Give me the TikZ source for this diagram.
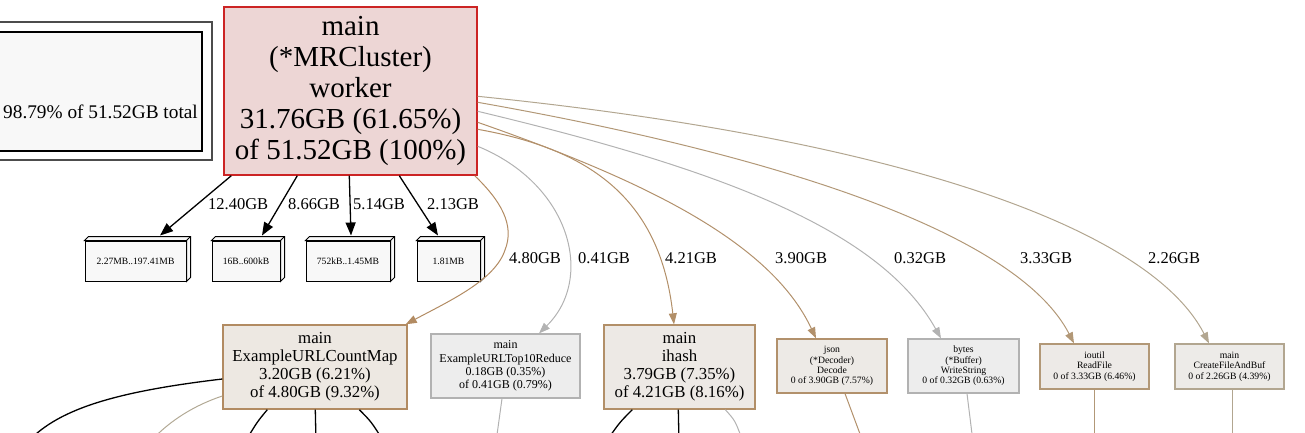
\documentclass[tikz,border=0pt]{standalone}
\usepackage{fontspec}
\setmainfont{Liberation Serif}
\usetikzlibrary{arrows.meta}
\definecolor{hotred}{HTML}{CC2424}
\definecolor{hotfill}{HTML}{EDD6D5}
\definecolor{legfill}{HTML}{F8F8F8}
\definecolor{tanA}{HTML}{B28B62}
\definecolor{fillA}{HTML}{EDE8E2}
\definecolor{tanB}{HTML}{B28F68}
\definecolor{fillB}{HTML}{EDE9E5}
\definecolor{tanC}{HTML}{B2916C}
\definecolor{fillC}{HTML}{EDEAE6}
\definecolor{tanD}{HTML}{B29877}
\definecolor{fillD}{HTML}{EDEAE7}
\definecolor{tanE}{HTML}{B2A690}
\definecolor{fillE}{HTML}{EDEBE8}
\definecolor{tanF}{HTML}{B2A995}
\definecolor{grayG}{HTML}{B2B2B2}
\definecolor{fillG}{HTML}{EDEDED}
\newcommand\fsz[2]{\fontsize{#1}{#2}\selectfont}
\tikzset{>={Triangle[length=11pt,width=8pt]}}
\tikzset{
  fn/.style={draw, rectangle, inner sep=0pt, align=center, line width=1.4pt},
  szbox/.style={draw, rectangle, fill=legfill, inner sep=0pt, line width=1pt,
    minimum height=40pt, font=\fsz{9.6}{10}},
  lbl/.style={anchor=west, inner sep=0pt, font=\fsz{16.5}{18}},
  blk/.style={->, line width=1.3pt, >={Triangle[length=13pt,width=10pt]}},
  ed/.style={->, line width=1pt},
  stub/.style={line width=1pt}
}

\begin{document}
\begin{tikzpicture}[x=1pt,y=-1pt]
\useasboundingbox (0,0) rectangle (1305,432);
\clip (0,0) rectangle (1305,432);
% legend
\draw[black!70, line width=1.6pt, fill=white] (-10,22) rectangle (212,160);
\draw[line width=1.3pt, fill=legfill] (-10,32) rectangle (202,151);
\node[anchor=east, inner sep=0pt, font=\fsz{19.3}{22}] (legend) at (198,112) {98.79\% of 51.52GB total};
% nodes
\node[fn, draw=hotred, fill=hotfill, minimum width=253pt, minimum height=168pt,
  font=\fsz{29}{31}] (worker) at (350.5,91)
  {main\\(*MRCluster)\\worker\\31.76GB (61.65\%)\\of 51.52GB (100\%)};
\node[szbox, minimum width=101pt] (sz1) at (135.5,261) {2.27MB..197.41MB};
\node[szbox, minimum width=68pt] (sz2) at (246,261) {16B..600kB};
\node[szbox, minimum width=84pt] (sz3) at (348,261) {752kB..1.45MB};
\node[szbox, minimum width=63pt] (sz4) at (448.5,261) {1.81MB};
\foreach \b in {sz1,sz2,sz3,sz4}{
  \draw[line width=1pt, fill=legfill] (\b.north west) -- ++(4,-4)
    -- ([shift={(4,-4)}]\b.north east) -- ([shift={(4,-4)}]\b.south east)
    -- (\b.south east) -- (\b.north east) -- cycle;
  \draw[line width=1pt] (\b.north east) -- ++(4,-4);
}
\node[fn, draw=tanA, fill=fillA, minimum width=184pt, minimum height=84pt,
  font=\fsz{16.8}{18}] (countmap) at (315,367)
  {main\\ExampleURLCountMap\\3.20GB (6.21\%)\\of 4.80GB (9.32\%)};
\node[fn, draw=grayG, fill=fillG, minimum width=149pt, minimum height=64pt,
  line width=1.2pt, font=\fsz{12}{13.3}] (top10) at (505.5,366)
  {main\\ExampleURLTop10Reduce\\0.18GB (0.35\%)\\of 0.41GB (0.79\%)};
\node[fn, draw=tanB, fill=fillB, minimum width=151pt, minimum height=84pt,
  font=\fsz{16.8}{18}] (ihash) at (679.5,367)
  {main\\ihash\\3.79GB (7.35\%)\\of 4.21GB (8.16\%)};
\node[fn, draw=tanC, fill=fillC, minimum width=110pt, minimum height=54pt,
  line width=1.2pt, font=\fsz{9.7}{10.3}] (decode) at (832,366)
  {json\\(*Decoder)\\Decode\\0 of 3.90GB (7.57\%)};
\node[fn, draw=grayG, fill=fillG, minimum width=111pt, minimum height=54pt,
  line width=1.2pt, font=\fsz{9.7}{10.3}] (wstring) at (963.5,366)
  {bytes\\(*Buffer)\\WriteString\\0 of 0.32GB (0.63\%)};
\node[fn, draw=tanD, fill=fillD, minimum width=109pt, minimum height=45pt,
  line width=1.2pt, font=\fsz{9.7}{10.5}] (readfile) at (1094.5,366.5)
  {ioutil\\ReadFile\\0 of 3.33GB (6.46\%)};
\node[fn, draw=tanE, fill=fillE, minimum width=109pt, minimum height=45pt,
  line width=1.2pt, font=\fsz{9.7}{10.5}] (createbuf) at (1229.5,366.5)
  {main\\CreateFileAndBuf\\0 of 2.26GB (4.39\%)};
% edges to size boxes
\draw[blk] ([shift={(8,0)}]worker.south west) -- ([shift={(24.5,-5)}]sz1.north);
\draw[blk] ([shift={(74,0)}]worker.south west) -- ([shift={(16,-5)}]sz2.north);
\draw[blk] ([shift={(126,0)}]worker.south west) -- ([shift={(3,-5)}]sz3.north);
\draw[blk] ([shift={(176,0)}]worker.south west) -- ([shift={(-10.5,-5)}]sz4.north);
\node[lbl] (l1) at (208,204) {12.40GB};
\node[lbl] (l2) at (288,204) {8.66GB};
\node[lbl] (l3) at (353,204) {5.14GB};
\node[lbl] (l4) at (427,204) {2.13GB};
% edges to callees
\draw[ed, tanA] ([shift={(-3,0)}]worker.south east) .. controls +(26,25) and +(10,-25) .. (505,250)
  .. controls +(-10,30) and +(45,-24) .. ([shift={(-2,0)}]countmap.north east);
\draw[ed, grayG] ([shift={(0,140)}]worker.north east) .. controls +(93,38) and +(56,-55) .. ([shift={(33.5,0)}]top10.north);
\draw[ed, tanB] ([shift={(0,123)}]worker.north east) .. controls +(113,20) and +(-14,-125) .. ([shift={(-5.5,0)}]ihash.north);
\draw[ed, tanC] ([shift={(0,116)}]worker.north east) .. controls +(163,57) and +(-46,-98) .. ([shift={(-16,0)}]decode.north);
\draw[ed, grayG] ([shift={(0,105)}]worker.north east) .. controls +(243,58) and +(-61,-109) .. ([shift={(-22.5,0)}]wstring.north);
\draw[ed, tanD] ([shift={(0,96)}]worker.north east) .. controls +(323,57) and +(-54,-105) .. ([shift={(-20.5,0)}]readfile.north);
\draw[ed, tanE] ([shift={(0,90)}]worker.north east) .. controls +(423,43) and +(-59,-115) .. ([shift={(-20.5,0)}]createbuf.north);
\node[lbl] (l5) at (509,258) {4.80GB};
\node[lbl] (l6) at (578,258) {0.41GB};
\node[lbl] (l7) at (665,258) {4.21GB};
\node[lbl] (l8) at (775,258) {3.90GB};
\node[lbl] (l9) at (894,258) {0.32GB};
\node[lbl] (l10) at (1020,258) {3.33GB};
\node[lbl] (l11) at (1148,258) {2.26GB};
% edges leaving the view
\coordinate (o1) at (25,445);
\coordinate (o2) at (150,442);
\coordinate (o3) at (245,442);
\coordinate (o4) at (316,442);
\coordinate (o5) at (384,442);
\coordinate (o6) at (496,442);
\coordinate (o7) at (606,442);
\coordinate (o8) at (679,442);
\coordinate (o9) at (743,442);
\coordinate (o10) at (863,442);
\coordinate (o11) at (973,442);
\coordinate (o12) at (1094.5,442);
\coordinate (o13) at (1232,442);
\draw[stub, line width=1.3pt] ([shift={(0,12)}]countmap.west) .. controls +(-110,13) and +(30,-35) .. (o1);
\draw[stub, tanF] ([shift={(0,29)}]countmap.west) .. controls +(-27,9) and +(20,-22) .. (o2);
\draw[stub, line width=1.3pt] ([shift={(45,0)}]countmap.south west) .. controls +(-10,12) .. (o3);
\draw[stub, line width=1.3pt] ([shift={(93,0)}]countmap.south west) -- (o4);
\draw[stub, line width=1.3pt] ([shift={(137,0)}]countmap.south west) .. controls +(12,12) .. (o5);
\draw[stub, grayG] ([shift={(-3.5,0)}]top10.south) -- (o6);
\draw[stub, line width=1.3pt] ([shift={(29,0)}]ihash.south west) .. controls +(-13,13) .. (o7);
\draw[stub, line width=1.3pt] ([shift={(75,0)}]ihash.south west) -- (o8);
\draw[stub, grayG] ([shift={(122,0)}]ihash.south west) .. controls +(10,11) .. (o9);
\draw[stub, tanC] ([shift={(13,0)}]decode.south) -- (o10);
\draw[stub, grayG] ([shift={(3.5,0)}]wstring.south) -- (o11);
\draw[stub, tanD] (readfile.south) -- (o12);
\draw[stub, tanE] ([shift={(2.5,0)}]createbuf.south) -- (o13);
\end{tikzpicture}
\end{document}
